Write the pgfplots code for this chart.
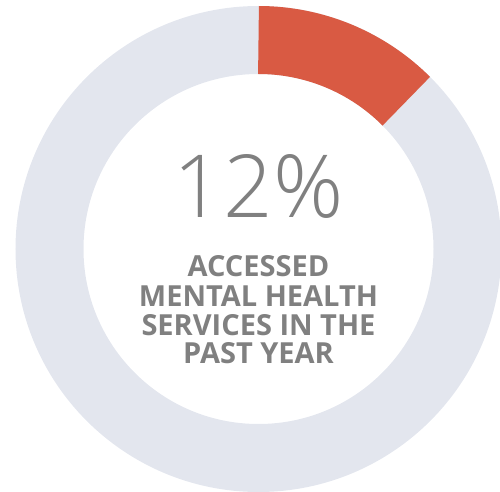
\documentclass[border=0pt]{standalone}
\usepackage{pgfplots}
\pgfplotsset{compat=1.18}
\usepackage{fontspec}
\setmainfont{Open Sans}
\newfontfamily\lightfont{Open Sans Light}

\definecolor{ringgrey}{HTML}{E3E6EE}
\definecolor{accent}{HTML}{D95A43}
\definecolor{labelgrey}{HTML}{808080}

% share of respondents (percent)
\def\accessed{12.5}
\def\cx{258.5}
\def\cy{242}

\begin{document}
\begin{tikzpicture}
  \begin{axis}[
      scale only axis,
      width=500pt, height=491pt,
      xmin=0, xmax=500, ymin=0, ymax=491,
      hide axis,
      clip=true,
    ]
    % grey ring, then the red share on top
    \draw[ringgrey, line width=68pt]
      (axis cs:\cx,\cy) circle[radius=209pt];
    \pgfmathsetmacro\endangle{90-3.6*\accessed}
    \draw[accent, line width=68pt]
      (axis cs:\cx,\cy) ++(90:209pt) arc[start angle=90, end angle=\endangle, radius=209pt];

    \node[anchor=base, text=labelgrey, inner sep=0pt, font=\lightfont\fontsize{87}{87}\selectfont]
      at (axis cs:\cx,274) {12\%};
    \begin{scope}[every node/.style={anchor=base, text=labelgrey, inner sep=0pt,
        font=\bfseries\fontsize{29}{29}\selectfont}]
      \node at (axis cs:\cx,214.5) {ACCESSED};
      \node at (axis cs:\cx,185) {MENTAL HEALTH};
      \node at (axis cs:\cx,156) {SERVICES IN THE};
      \node at (axis cs:\cx,128) {PAST YEAR};
    \end{scope}
  \end{axis}
  \pgfresetboundingbox
  \useasboundingbox (current axis.south west) rectangle (current axis.north east);
\end{tikzpicture}
\end{document}
